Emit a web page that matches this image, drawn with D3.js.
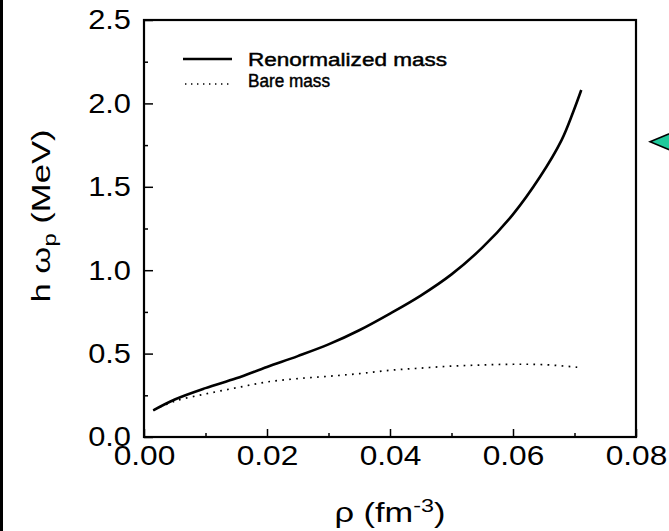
<!DOCTYPE html>
<html>
<head>
<meta charset="utf-8">
<script src="https://cdn.jsdelivr.net/npm/d3@7/dist/d3.min.js"></script>
<style>
body { margin: 0; background: #fff; }
svg { display: block; font-family: "Liberation Sans", Arial, sans-serif; }
</style>
</head>
<body>
<div id="viz"></div>
<script>
var width = 669;
var height = 531;
var margin = {top: 20, right: 33, bottom: 94, left: 144};
var plotW = width - margin.left - margin.right;
var plotH = height - margin.top - margin.bottom;

// values
var renormRho = [0.0015, 0.005, 0.010, 0.015, 0.020, 0.025, 0.030, 0.035, 0.040, 0.045, 0.050, 0.055, 0.060, 0.0644, 0.0679, 0.0698, 0.0711];
var renormHw = [0.16, 0.225, 0.293, 0.352, 0.42, 0.485, 0.555, 0.64, 0.74, 0.848, 0.975, 1.135, 1.335, 1.56, 1.78, 1.95, 2.08];
var bareRho = [0.0015, 0.005, 0.010, 0.015, 0.020, 0.025, 0.030, 0.035, 0.040, 0.045, 0.050, 0.055, 0.060, 0.065, 0.0711];
var bareHw = [0.16, 0.215, 0.258, 0.295, 0.33, 0.35, 0.364, 0.38, 0.40, 0.413, 0.425, 0.432, 0.436, 0.434, 0.416];
var xTicks = [0, 0.02, 0.04, 0.06, 0.08];
var xMinor = [0.01, 0.03, 0.05, 0.07];
var yTicks = [0, 0.5, 1.0, 1.5, 2.0, 2.5];
var yMinor = [0.25, 0.75, 1.25, 1.75, 2.25];
var legendLabels = ["Renormalized mass", "Bare mass"];

var x = d3.scaleLinear()
	.domain([0, 0.08])
	.range([0, plotW]);

var y = d3.scaleLinear()
	.domain([0, 2.5])
	.range([plotH, 0]);

var line = d3.line()
	.x(function(d) { return x(d[0]); })
	.y(function(d) { return y(d[1]); })
	.curve(d3.curveCatmullRom);

// text in the original is a bit wider than Liberation Sans
var stretch = function(sel, k) {
	sel.each(function() {
		var w = this.getComputedTextLength();
		d3.select(this)
			.attr("textLength", w * k)
			.attr("lengthAdjust", "spacingAndGlyphs");
	});
}

var svg = d3.select("#viz").append("svg")
	.attr("width", width)
	.attr("height", height);

svg.append("rect")
	.attr("width", width)
	.attr("height", height)
	.style("fill", "#FFFFFF");

// black strip on the left edge of the slide
svg.append("rect")
	.attr("x", 0)
	.attr("y", 0)
	.attr("width", 3)
	.attr("height", height)
	.style("fill", "#000");

var g = svg.append("g")
	.attr("transform", "translate(" + margin.left + "," + margin.top + ")");

// minor ticks
g.append("g")
	.attr("transform", "translate(0," + plotH + ")")
	.call(d3.axisBottom(x).tickValues(xMinor).tickSize(-4).tickFormat(""))
	.call(function(a) { a.select(".domain").remove(); });

g.append("g")
	.call(d3.axisLeft(y).tickValues(yMinor).tickSize(-4).tickFormat(""))
	.call(function(a) { a.select(".domain").remove(); });

// major ticks with labels
var xAxis = g.append("g")
	.attr("transform", "translate(0," + plotH + ")")
	.call(d3.axisBottom(x).tickValues(xTicks).tickSize(-8).tickPadding(8).tickFormat(d3.format(".2f")));

var yAxis = g.append("g")
	.call(d3.axisLeft(y).tickValues(yTicks).tickSize(-9).tickPadding(13).tickFormat(d3.format(".1f")));

[xAxis, yAxis].forEach(function(a) {
	a.select(".domain").remove();
	a.selectAll("text")
		.style("font-size", "28px")
		.style("font-family", "Liberation Sans, Arial, sans-serif")
		.attr("fill", "#000");
});
svg.selectAll(".tick line").attr("stroke", "#000").attr("stroke-width", 1.5);
stretch(xAxis.selectAll("text"), 1.13);
stretch(yAxis.selectAll("text"), 1.1);

// frame
g.append("rect")
	.attr("width", plotW)
	.attr("height", plotH)
	.style("fill", "none")
	.style("stroke", "#000")
	.style("stroke-width", 2.2);

g.append("path")
	.datum(d3.zip(bareRho, bareHw))
	.attr("d", line)
	.style("fill", "none")
	.style("stroke", "#000")
	.style("stroke-width", 1.7)
	.style("stroke-dasharray", "1.7,5.3");

g.append("path")
	.datum(d3.zip(renormRho, renormHw))
	.attr("d", line)
	.style("fill", "none")
	.style("stroke", "#000")
	.style("stroke-width", 2.6);

// legend
var legend = svg.append("g")
	.attr("transform", "translate(183,59)");

var legendRows = legend.selectAll(".lrow")
		.data(legendLabels)
	.enter().append("g")
		.attr("class", "lrow")
		.attr("transform", function(d, i) { return "translate(0," + (i * 25) + ")"; });

legendRows.append("line")
	.attr("x1", function(d, i) { return i == 0 ? 0 : 2; })
	.attr("x2", function(d, i) { return i == 0 ? 49 : 46; })
	.style("stroke", "#000")
	.style("stroke-width", function(d, i) { return i == 0 ? 2.4 : 1.4; })
	.style("stroke-dasharray", function(d, i) { return i == 0 ? null : "1.4,4.6"; });

legendRows.append("text")
	.attr("x", 65)
	.attr("y", function(d, i) { return i == 0 ? 7 : 3; })
	.style("font-size", "18px")
	.style("stroke", "#000")
	.style("stroke-width", 0.45)
	.text(function(d) { return d; })
	.attr("textLength", function(d, i) { return i == 0 ? 199 : 82; })
	.attr("lengthAdjust", "spacingAndGlyphs");

// axis titles
var yTitle = svg.append("text")
	.attr("transform", "translate(50," + 216 + ") rotate(-90)")
	.attr("text-anchor", "middle")
	.style("font-size", "26px");
yTitle.append("tspan").text("h \u03c9");
yTitle.append("tspan").attr("dy", 6).style("font-size", "18px").text("p");
yTitle.append("tspan").attr("dy", -6).text(" (MeV)");
yTitle.attr("textLength", 173).attr("lengthAdjust", "spacingAndGlyphs");

var xTitle = svg.append("text")
	.attr("x", margin.left + plotW / 2)
	.attr("y", 522)
	.attr("text-anchor", "middle")
	.style("font-size", "28px");
xTitle.append("tspan").text("\u03c1 (fm");
xTitle.append("tspan").attr("dy", -10).style("font-size", "19px").text("-3");
xTitle.append("tspan").attr("dy", 10).text(")");
xTitle.attr("textLength", 111).attr("lengthAdjust", "spacingAndGlyphs");

// green pointer on the right, cut by the page edge
var tipX = margin.left + plotW + 14;
var tipY = margin.top + y(1.77);
svg.append("path")
	.attr("d", "M" + tipX + "," + tipY + "L" + (tipX + 24) + "," + (tipY - 10) + "L" + (tipX + 24) + "," + (tipY + 10) + "Z")
	.style("fill", "#1fc99b")
	.style("stroke", "#000")
	.style("stroke-width", 1.5);
</script>
</body>
</html>
